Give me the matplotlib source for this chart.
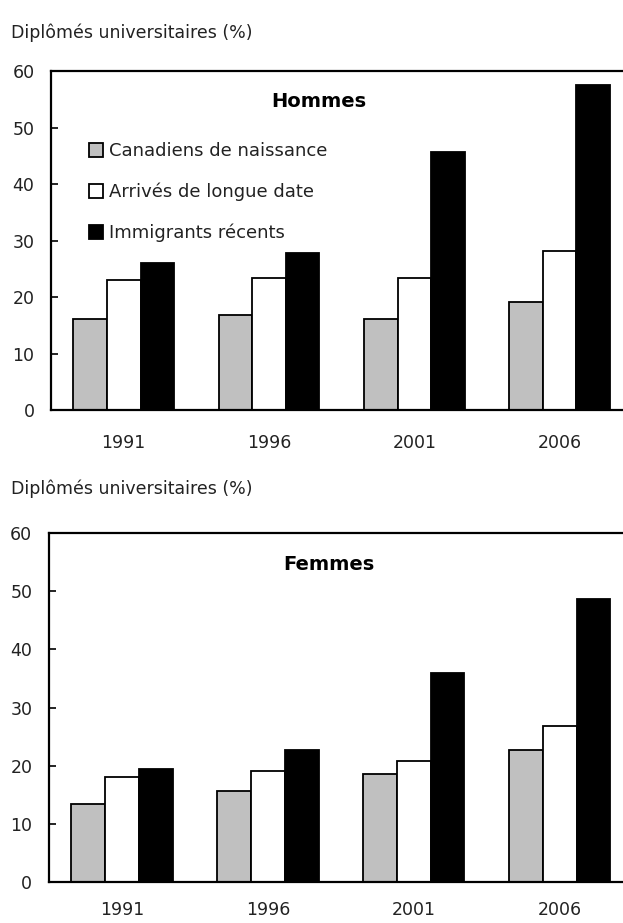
import matplotlib
matplotlib.use("Agg")
import matplotlib.pyplot as plt
from matplotlib.patches import Patch, Rectangle
import numpy as np

plt.rcParams['font.family'] = ['DejaVu Sans']

# données
annees = ['1991', '1996', '2001', '2006']
series = ['Canadiens de naissance', 'Arrivés de longue date', 'Immigrants récents']
hommes_canadiens = [16.1, 16.8, 16.1, 19.1]
hommes_longue_date = [23.1, 23.4, 23.4, 28.1]
hommes_recents = [26.0, 27.8, 45.6, 57.6]
femmes_canadiens = [13.5, 15.7, 18.5, 22.7]
femmes_longue_date = [18.0, 19.1, 20.8, 26.8]
femmes_recents = [19.4, 22.7, 36.0, 48.6]

couleurs = ['#c0c0c0', 'white', 'black']
ylabel = 'Diplômés universitaires (%)'


def panneau(ax, valeurs, titre, label_pad):
    x = np.arange(len(annees))
    w = 0.231
    for k, (vals, c) in enumerate(zip(valeurs, couleurs)):
        ax.bar(x + (k - 1) * w, vals, w, color=c, edgecolor='black', linewidth=1.3, zorder=2)
    ax.set_xlim(-0.5, len(annees) - 0.5)
    ax.set_ylim(0, 60)
    ax.set_yticks(range(0, 61, 10))
    ax.set_xticks(x)
    ax.set_xticklabels(annees)
    ax.tick_params(axis='y', direction='in', length=5, width=1.2, pad=12, labelsize=12.5,
                   labelcolor='#222222')
    ax.tick_params(axis='x', length=0, pad=label_pad, labelsize=12.5, labelcolor='#222222')
    for s in ['left', 'top', 'bottom']:
        ax.spines[s].set_linewidth(1.6)
    ax.spines['right'].set_visible(False)
    ax.text(0.46 if titre == 'Hommes' else 0.479, 0.91, titre, transform=ax.transAxes,
            ha='center', va='center', fontsize=14, fontweight='bold')


fig = plt.figure(figsize=(6.23, 9.23), dpi=100)

ax1 = fig.add_axes([0.082, 0.5553, 0.933, 0.3678], zorder=0)
panneau(ax1, [hommes_canadiens, hommes_longue_date, hommes_recents], 'Hommes', 17)

handles = [Patch(facecolor=c, edgecolor='black', linewidth=1.3) for c in couleurs]
ax1.legend(handles, series, loc='upper left', bbox_to_anchor=(0.066, 0.79), frameon=False,
           fontsize=13, handlelength=0.75, handleheight=0.75, handletextpad=0.35,
           labelspacing=1.25, borderpad=0, borderaxespad=0, labelcolor='#222222')

# le bas des étiquettes du premier panneau est coupé dans l'original
fig.patches.append(Rectangle((0, 0), 1, 0.5146, transform=fig.transFigure,
                             facecolor='white', edgecolor='none', zorder=0.5))

ax2 = fig.add_axes([0.0787, 0.0444, 0.937, 0.378], zorder=1)
panneau(ax2, [femmes_canadiens, femmes_longue_date, femmes_recents], 'Femmes', 14)

fig.text(0.018, 0.9645, ylabel, ha='left', va='center', fontsize=12.5, color='#222222', zorder=3)
fig.text(0.018, 0.4705, ylabel, ha='left', va='center', fontsize=12.5, color='#222222', zorder=3)

fig.savefig('out.png', dpi=100, facecolor='white')
